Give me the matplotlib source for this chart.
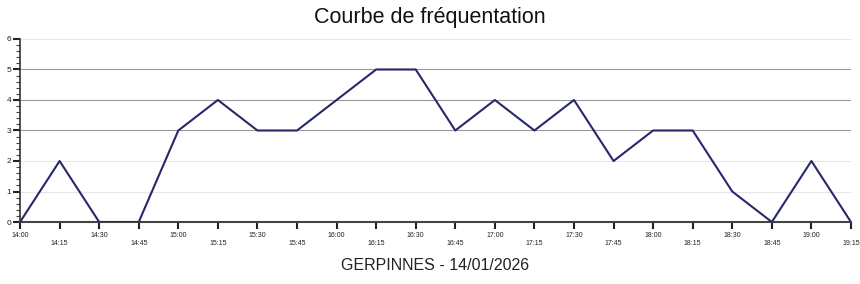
import matplotlib
matplotlib.use("Agg")
import matplotlib.pyplot as plt
from matplotlib.ticker import MultipleLocator

plt.rcParams['font.family'] = ['Liberation Sans', 'DejaVu Sans']

times = ['14:00', '14:15', '14:30', '14:45', '15:00', '15:15', '15:30', '15:45',
         '16:00', '16:15', '16:30', '16:45', '17:00', '17:15', '17:30', '17:45',
         '18:00', '18:15', '18:30', '18:45', '19:00', '19:15']
visitors = [0, 2, 0, 0, 3, 4, 3, 3, 4, 5, 5, 3, 4, 3, 4, 2, 3, 3, 1, 0, 2, 0]
dark_grid = [3, 4, 5]
light_grid = [1, 2, 6]

fig = plt.figure(figsize=(8.6, 2.84), dpi=100)
ax = fig.add_axes([0.0233, 0.2183, 0.9662, 0.6444])

x = list(range(len(times)))
for y in light_grid:
    ax.axhline(y, color='#e6e6e6', linewidth=0.8, zorder=1)
for y in dark_grid:
    ax.axhline(y, color='#999999', linewidth=0.8, zorder=1)

ax.plot(x, visitors, color='#27286b', linewidth=1.5, zorder=3)

ax.set_xlim(0, len(times) - 1)
ax.set_ylim(0, 6)
ax.set_xticks(x)
# stagger the labels: every other one goes one line lower
ax.set_xticklabels([t if i % 2 == 0 else '\n' + t for i, t in enumerate(times)])
ax.set_yticks(range(7))
ax.yaxis.set_minor_locator(MultipleLocator(0.2))

ax.tick_params(axis='x', which='major', labelsize=5, length=5, width=1.5, pad=2, colors='#222222')
ax.tick_params(axis='y', which='major', labelsize=6, length=5, width=1.5, pad=1.5, colors='#222222')
ax.tick_params(axis='y', which='minor', length=3, width=0.8, color='#444444')

for side in ['top', 'right']:
    ax.spines[side].set_visible(False)
ax.spines['left'].set_color('#333333')
ax.spines['bottom'].set_color('#444444')
ax.spines['left'].set_linewidth(1.2)
ax.spines['bottom'].set_linewidth(1.5)

fig.text(0.5, 0.94, 'Courbe de fréquentation', ha='center', va='center', fontsize=15.5, color='#111111')
ax.text(0.5, -0.235, 'GERPINNES - 14/01/2026', transform=ax.transAxes,
        ha='center', va='center', fontsize=11.5, color='#222222')

fig.savefig('out.png', dpi=100)
